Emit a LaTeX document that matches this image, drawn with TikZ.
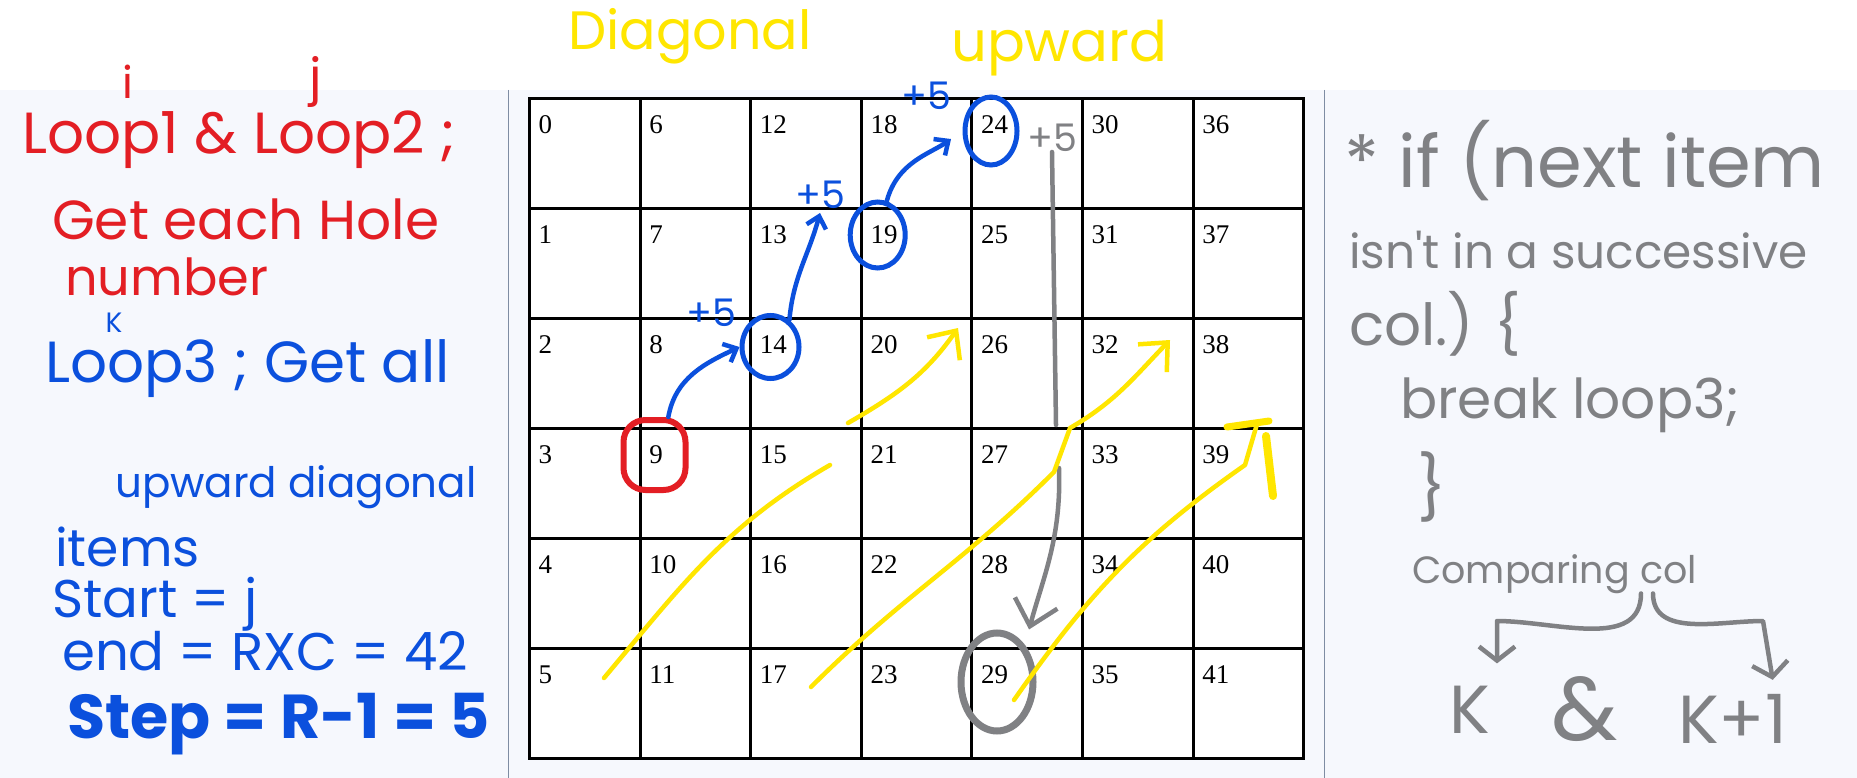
\documentclass[tikz,border=0pt]{standalone}
\usepackage{fontspec}
\setmainfont{Liberation Serif}
\newfontfamily\hand{Poppins}
\usetikzlibrary{arrows.meta,shapes.geometric}

\definecolor{penred}{HTML}{E31E24}
\definecolor{penblue}{HTML}{0B50DD}
\definecolor{penyellow}{HTML}{FFE600}
\definecolor{pengray}{HTML}{808184}
\definecolor{panel}{HTML}{F6F8FD}
\definecolor{divider}{HTML}{7F8DA3}

\tikzset{
  cell/.style={draw, fill=white, line width=3pt, minimum width=110.6pt, minimum height=110pt,
    anchor=north west, inner sep=0pt, outer sep=0pt},
  num/.style={anchor=north west, inner sep=0pt, font=\fontsize{27}{30}\selectfont},
  note/.style={anchor=base west, inner sep=0pt, font=\hand\fontsize{#1}{#1}\selectfont},
  ink/.style={line width=4.5pt, line cap=round, line join=round},
  ring/.style={draw, ellipse, line width=5pt, inner sep=0pt},
  bigbarb/.style={-{Straight Barb[length=22pt,width=40pt]}},
}

\begin{document}
\begin{tikzpicture}[x=1pt, y=1pt, >={Straight Barb[length=11pt,width=20pt]}]
    % Page and panels
    \useasboundingbox (0,0) rectangle (1857,-778);
    \fill[white] (0,0) rectangle (1857,-90);
    \fill[panel] (0,-90) rectangle (1857,-778);
    \draw[divider, line width=1.5pt] (508.5,-90) -- (508.5,-778);
    \draw[divider, line width=1.5pt] (1324.5,-90) -- (1324.5,-778);

    % Hole grid, numbered down the columns
    \foreach \c in {0,...,6} {
      \foreach \r in {0,...,5} {
        \pgfmathtruncatemacro{\k}{6*\c+\r}
        \node[cell] (n\k) at ({529.5+110.6*\c}, {-98.3-110*\r}) {};
        \node[num] (t\k) at ([xshift=9pt, yshift=-17pt]n\k.north west) {\k};
      }
    }

    % Title over the grid
    \node[note=54, text=penyellow] (diag) at (568,-50) {Diagonal};
    \node[note=56, text=penyellow] (upw) at (951,-62) {upward};

    % Left notes
    \node[note=44, text=penred, anchor=base] (vi) at (128,-99) {i};
    \node[note=50, text=penred, anchor=base] (vj) at (316,-95) {j};
    \node[note=58, text=penred] (loops) at (22,-154) {Loop1 \& Loop2 ;};
    \node[note=55, text=penred] (hole) at (52,-240) {Get each Hole};
    \node[note=51, text=penred] (numb) at (65,-295) {number};
    \node[note=28, text=penblue, anchor=base] (vk) at (114,-332) {K};
    \node[note=58, text=penblue] (loop3) at (45,-382) {Loop3 ; Get all};
    \node[note=42, text=penblue] (updiag) at (115,-497) {upward diagonal};
    \node[note=52, text=penblue] (items) at (55,-566) {items};
    \node[note=53, text=penblue] (start) at (52,-617) {Start = j};
    \node[note=53, text=penblue] (end) at (62,-670) {end = RXC = 42};
    \node[note=62, text=penblue, font=\hand\bfseries\fontsize{62}{62}\selectfont] (stp) at (67,-738) {Step = R-1 = 5};

    % Right notes
    \node[note=72, text=pengray] (cond) at (1344,-188) {* if (next item};
    \node[note=47, text=pengray] (succ) at (1349,-268) {isn't in a successive};
    \node[note=58, text=pengray] (col) at (1349,-345) {col.) \{};
    \node[note=55, text=pengray] (brk) at (1400,-418) {break loop3;};
    \node[note=63, text=pengray, anchor=base] (close) at (1432,-510) {\}};
    \node[note=38, text=pengray] (cmp) at (1412,-583) {Comparing col};
    \node[note=68, text=pengray, anchor=base] (kleft) at (1470,-733) {K};
    \node[note=90, text=pengray, anchor=base] (amp) at (1585,-740) {\&};
    \node[note=68, text=pengray] (kright) at (1678,-743) {K+1};

    % Start hole and the holes it reaches
    \node[draw=penred, line width=6pt, rounded corners=22pt, minimum width=62pt, minimum height=70pt, inner sep=0pt] (ring9) at (654.5,-455) {};
    \node[ring, draw=penblue, minimum width=57pt, minimum height=63pt] (ring14) at (770.5,-347) {};
    \node[ring, draw=penblue, minimum width=55pt, minimum height=66pt] (ring19) at (877.7,-235) {};
    \node[ring, draw=penblue, minimum width=52pt, minimum height=68pt] (ring24) at (991,-131) {};
    \node[ring, draw=pengray, line width=7pt, minimum width=72pt, minimum height=98pt] (ring29) at (997,-682) {};

    % Step labels
    \node[note=38, text=penblue, anchor=center] (p1) at (711,-313) {+5};
    \node[note=38, text=penblue, anchor=center] (p2) at (820,-195) {+5};
    \node[note=38, text=penblue, anchor=center] (p3) at (926,-96) {+5};
    \node[note=38, text=pengray, anchor=center] (p4) at (1052,-138) {+5};

    % Blue steps
    \draw[ink, penblue, ->] (ring9.70) to[out=80, in=205] (ring14.west);
    \draw[ink, penblue, ->] (ring14.55) to[out=85, in=255] ([yshift=-4pt]p2.south);
    \draw[ink, penblue, ->, shorten >=14pt] (ring19.75) to[out=75, in=215] (ring24.west);

    % Gray jump to the end hole
    \coordinate (g1) at (1056,-425);
    \coordinate (g2) at (1059,-468);
    \draw[ink, pengray] (p4.south) -- (g1);
    \draw[ink, pengray, -{Straight Barb[length=24pt,width=44pt]}, shorten >=16pt] (g2) to[out=-88, in=75] (ring29.north east);

    % Yellow diagonal sweeps
    \coordinate (ya1) at (604,-678);
    \coordinate (ya2) at (830,-465);
    \draw[ink, penyellow] (ya1) to[out=50, in=210] (ya2);
    \coordinate (yb1) at (848,-423);
    \coordinate (yb2) at (958,-328);
    \draw[ink, penyellow, bigbarb] (yb1) to[out=30, in=235] (yb2);
    \coordinate (yc1) at (811,-687);
    \coordinate (yc2) at (1054,-472);
    \coordinate (yc3) at (1070,-428);
    \coordinate (yc4) at (1170,-340);
    \draw[ink, penyellow, bigbarb] (yc1) to[out=45, in=225] (yc2) -- (yc3) to[out=30, in=226] (yc4);
    \coordinate (yd1) at (1014,-700);
    \coordinate (yd2) at (1245,-465);
    \coordinate (yd3) at (1257,-424);
    \coordinate (yd4) at (1227,-427);
    \coordinate (yd5) at (1269,-421);
    \coordinate (yd6) at (1266,-436);
    \coordinate (yd7) at (1273,-496);
    \draw[ink, penyellow] (yd1) to[out=55, in=215] (yd2) -- (yd3);
    \draw[ink, penyellow, line width=7pt] (yd4) -- (yd5);
    \draw[ink, penyellow, line width=8pt] (yd6) -- (yd7);

    % Column comparison
    \coordinate (bl) at (1497,-621);
    \coordinate (br) at (1763,-621);
    \draw[ink, pengray, -{Straight Barb[length=14pt,width=36pt]}, shorten >=22pt] ([xshift=-56pt]cmp.south east) to[out=-90, in=0] (bl) -- (bl |- kleft.north);
    \draw[ink, pengray, -{Straight Barb[length=14pt,width=36pt]}, shorten >=14pt] ([xshift=-44pt]cmp.south east) to[out=-90, in=180] (br) -- ([xshift=12pt]br |- kright.north);
\end{tikzpicture}
\end{document}
